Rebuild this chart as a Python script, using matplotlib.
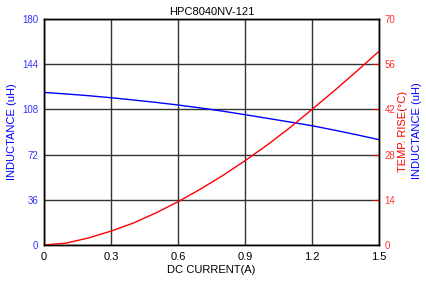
import numpy as np
import matplotlib.pyplot as plt

plt.rcParams['font.family'] = ['Liberation Sans', 'DejaVu Sans']

current = [0, 0.1, 0.2, 0.3, 0.4, 0.5, 0.6, 0.7, 0.8, 0.9, 1.0, 1.1, 1.2, 1.3, 1.4, 1.5]
inductance = [121.5, 120.3, 118.9, 117.3, 115.5, 113.6, 111.5, 109.2, 106.6, 103.8, 100.9, 98.0, 95.0, 91.5, 87.8, 83.9]
temp_rise = [0.0, 0.6, 2.2, 4.3, 6.8, 9.9, 13.4, 17.3, 21.5, 26.1, 31.0, 36.3, 42.0, 47.8, 53.8, 60.0]

x_ticks = [0, 0.3, 0.6, 0.9, 1.2, 1.5]
l_ticks = [0, 36, 72, 108, 144, 180]
r_ticks = [0, 14, 28, 42, 56, 70]

fig = plt.figure(figsize=(4.27, 2.87), dpi=100)
ax = fig.add_axes([44 / 427, 42 / 287, 335 / 427, 226 / 287])
ax2 = ax.twinx()

ax.plot(current, inductance, color='#0000ff', lw=1)
ax2.plot(current, temp_rise, color='#ff0000', lw=1)

ax.set_xlim(0, 1.5)
ax.set_ylim(0, 180)
ax2.set_ylim(0, 70)
ax.set_xticks(x_ticks)
ax.set_xticklabels(['0', '0.3', '0.6', '0.9', '1.2', '1.5'])
ax.set_yticks(l_ticks)
ax2.set_yticks(r_ticks)
ax.grid(True, color='#333333', lw=1)

ax.tick_params(axis='x', length=0, labelsize=8, pad=5)
ax.tick_params(axis='y', length=0, labelsize=7, labelcolor='#3333ff', pad=4)
ax2.tick_params(axis='y', direction='in', length=4, color='#ff0000', labelsize=7,
                labelcolor='#ff3333', pad=4)

for sp in list(ax.spines.values()) + list(ax2.spines.values()):
    sp.set_color('black')
    sp.set_linewidth(1)

ax.set_title('HPC8040NV-121', fontsize=8, pad=3)
ax.set_xlabel('DC CURRENT(A)', fontsize=8, labelpad=2)
ax.set_ylabel('INDUCTANCE (uH)', fontsize=8, color='#0000ff', labelpad=4)

fig.text(403 / 427, 1 - 131 / 287, 'TEMP. RISE(\u00b0C)', color='#ff0000', fontsize=8,
         rotation=90, ha='center', va='center')
fig.text(417 / 427, 1 - 131 / 287, 'INDUCTANCE (uH)', color='#0000ff', fontsize=8,
         rotation=90, ha='center', va='center')

fig.savefig('out.png', dpi=100)
